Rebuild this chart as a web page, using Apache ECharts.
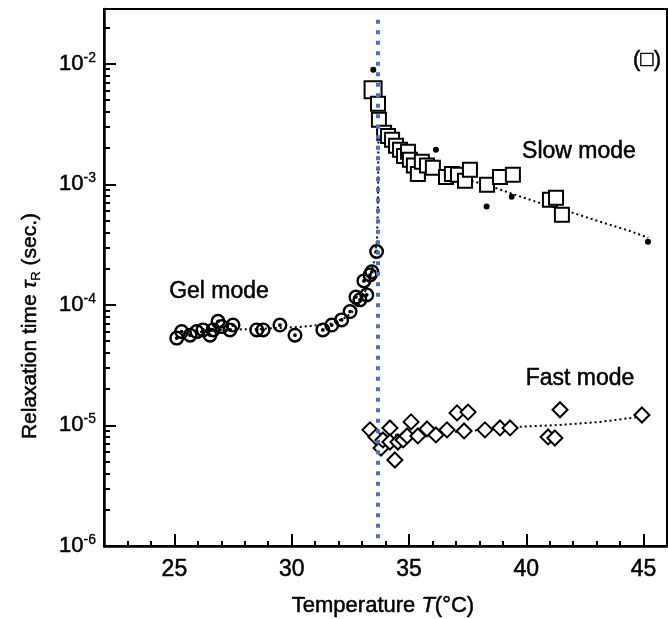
<!DOCTYPE html>
<html><head><meta charset="utf-8">
<script src="https://cdn.jsdelivr.net/npm/echarts@6/dist/echarts.min.js"></script>
<style>html,body{margin:0;padding:0;background:#fff}#c{width:668px;height:619px}</style>
</head><body><div id="c"></div>
<script>
// ---- axis ticks ----
const xTicks = [25, 30, 35, 40, 45];
const xMinorTicks = [22, 23, 24, 25, 26, 27, 28, 29, 30, 31, 32, 33, 34, 35, 36, 37, 38, 39, 40, 41, 42, 43, 44, 45, 46];
const yTicks = [1e-6, 1e-5, 1e-4, 1e-3, 1e-2];
const yMinorTicks = [2e-6, 3e-6, 4e-6, 5e-6, 6e-6, 7e-6, 8e-6, 9e-6,
  2e-5, 3e-5, 4e-5, 5e-5, 6e-5, 7e-5, 8e-5, 9e-5,
  2e-4, 3e-4, 4e-4, 5e-4, 6e-4, 7e-4, 8e-4, 9e-4,
  2e-3, 3e-3, 4e-3, 5e-3, 6e-3, 7e-3, 8e-3, 9e-3, 2e-2];

// ---- Gel mode (circles) ----
const gelT = [25.10, 25.31, 25.67, 25.95, 26.22, 26.52, 26.65, 26.86, 27.02, 27.37, 27.50, 28.51, 28.78, 29.50, 30.14, 31.33, 31.71, 32.13, 32.49, 32.74, 32.91, 33.08, 33.20, 33.34, 33.42, 33.62];
const gelTau = [5.3e-5, 6.0e-5, 5.6e-5, 6.0e-5, 6.2e-5, 5.6e-5, 6.2e-5, 7.3e-5, 6.6e-5, 6.2e-5, 6.8e-5, 6.2e-5, 6.2e-5, 6.8e-5, 5.6e-5, 6.2e-5, 6.8e-5, 7.5e-5, 8.8e-5, 1.16e-4, 1.1e-4, 1.58e-4, 1.21e-4, 1.77e-4, 1.88e-4, 2.77e-4];
const gelFitT = [25.24, 26.94, 28.65, 30.35, 31.63, 32.27, 32.70, 33.00, 33.25, 33.51, 33.64, 33.68, 33.70];
const gelFitTau = [5.74e-5, 6.2e-5, 6.32e-5, 6.56e-5, 6.95e-5, 7.8e-5, 9.1e-5, 1.1e-4, 1.47e-4, 2.28e-4, 3.46e-4, 7.4e-4, 2.9e-3];

// ---- Slow mode (squares) ----
const slowT = [33.47, 33.68, 33.72, 33.94, 34.11, 34.28, 34.45, 34.62, 34.79, 34.96, 35.04, 35.21, 35.38, 35.55, 35.77, 36.02, 36.58, 36.83, 37.09, 37.39, 37.60, 38.33, 38.88, 39.43, 41.01, 41.27, 41.52];
const slowTau = [6.08e-3, 4.66e-3, 3.43e-3, 2.67e-3, 2.52e-3, 2.34e-3, 2.09e-3, 1.93e-3, 1.72e-3, 1.86e-3, 1.60e-3, 1.43e-3, 1.22e-3, 1.54e-3, 1.43e-3, 1.37e-3, 1.15e-3, 1.22e-3, 1.20e-3, 1.07e-3, 1.32e-3, 9.9e-4, 1.15e-3, 1.20e-3, 7.43e-4, 7.73e-4, 5.58e-4];
const slowFitT = [33.70, 33.98, 34.40, 35.04, 35.90, 37.17, 38.45, 39.43, 40.58, 41.86, 43.14, 44.42, 45.20];
const slowFitTau = [2.9e-3, 2.43e-3, 2.01e-3, 1.60e-3, 1.32e-3, 1.13e-3, 9.7e-4, 8.3e-4, 7.0e-4, 5.9e-4, 4.9e-4, 4.1e-4, 3.6e-4];

// ---- filled small dots ----
const dotT = [33.48, 36.15, 38.31, 39.38, 45.19];
const dotTau = [8.9e-3, 1.93e-3, 6.55e-4, 7.9e-4, 3.33e-4];

// ---- Fast mode (diamonds) ----
const fastT = [33.34, 33.59, 33.81, 33.89, 34.19, 34.19, 34.40, 34.53, 34.75, 34.92, 35.09, 35.38, 35.77, 36.15, 36.62, 37.05, 37.35, 37.52, 38.24, 38.88, 39.31, 40.93, 41.22, 41.44, 44.93];
const fastTau = [9.19e-6, 8.03e-6, 6.5e-6, 7.58e-6, 9.53e-6, 7.29e-6, 5.17e-6, 7.29e-6, 7.58e-6, 8.18e-6, 1.07e-5, 8.18e-6, 9.35e-6, 8.34e-6, 9.19e-6, 1.27e-5, 9.0e-6, 1.29e-5, 9.19e-6, 9.53e-6, 9.53e-6, 8.03e-6, 7.87e-6, 1.35e-5, 1.22e-5];
const fastFitT = [33.34, 35.47, 37.60, 39.52, 41.44, 43.14, 44.85];
const fastFitTau = [8.18e-6, 8.5e-6, 9.0e-6, 9.7e-6, 1.01e-5, 1.07e-5, 1.18e-5];

// ---- critical temperature marker (blue dotted) ----
const tcT = [33.68, 33.68];
const tcTau = [0.0232, 1.1e-6];

const zip = (a, b) => a.map((v, i) => [v, b[i]]);
const FONT = '"Liberation Sans", Arial, "DejaVu Sans", sans-serif';
const ringPath = 'path://M10,0 A10,10 0 1,1 10,20 A10,10 0 1,1 10,0 Z M10,3.2 A6.8,6.8 0 1,0 10,16.8 A6.8,6.8 0 1,0 10,3.2 Z M10,7.5 A2.5,2.5 0 1,1 10,12.5 A2.5,2.5 0 1,1 10,7.5 Z';
const TB = {textBorderColor: '#000', textBorderWidth: 0.5};

const chart = echarts.init(document.getElementById('c'), null, {renderer: 'canvas'});
const xBase = {type: 'value', min: 22, max: 46, position: 'bottom', splitLine: {show: false}};
const yBase = {type: 'log', logBase: 10, min: 1e-6, max: 0.02844, position: 'left', splitLine: {show: false}};

chart.setOption({
  animation: false,
  backgroundColor: '#fff',
  grid: {left: 104, right: 1, top: 9, bottom: 73, show: true, borderColor: '#000', borderWidth: 2, backgroundColor: 'transparent'},
  xAxis: [
    Object.assign({}, xBase, {
      axisLine: {show: true, lineStyle: {color: '#000', width: 2.5}},
      axisTick: {show: true, inside: true, length: 12, customValues: xTicks, lineStyle: {color: '#000', width: 2}},
      axisLabel: Object.assign({show: true, customValues: xTicks, color: '#000', fontSize: 23, fontFamily: FONT, margin: 12}, TB)
    }),
    Object.assign({}, xBase, {
      axisLine: {show: false},
      axisTick: {show: true, inside: true, length: 5, customValues: xMinorTicks, lineStyle: {color: '#000', width: 2}},
      axisLabel: {show: false}
    })
  ],
  yAxis: [
    Object.assign({}, yBase, {
      axisLine: {show: true, lineStyle: {color: '#000', width: 2.5}},
      axisTick: {show: true, inside: true, length: 12, customValues: yTicks, lineStyle: {color: '#000', width: 2}},
      axisLabel: {
        show: true, customValues: yTicks, margin: 8, color: '#000', fontFamily: FONT,
        formatter: v => '{b|10}{s|' + Math.round(Math.log10(v)) + '}',
        rich: {
          b: Object.assign({fontSize: 22, fontFamily: FONT, color: '#000', lineHeight: 26}, TB),
          s: {fontSize: 14, fontFamily: FONT, color: '#000', lineHeight: 14, verticalAlign: 'top', textBorderColor: '#000', textBorderWidth: 0.3}
        }
      }
    }),
    Object.assign({}, yBase, {
      axisLine: {show: false},
      axisTick: {show: true, inside: true, length: 6, customValues: yMinorTicks, lineStyle: {color: '#000', width: 2}},
      axisLabel: {show: false}
    })
  ],
  graphic: [
    {type: 'text', x: 30, y: 326, rotation: Math.PI / 2, style: {
      text: '{a|Relaxation time }{t|τ}{r|R}{a| (sec.)}', align: 'center', verticalAlign: 'middle',
      rich: {
        a: {fontSize: 21, fontFamily: FONT, fill: '#000', lineHeight: 26, stroke: '#000', lineWidth: 0.5},
        t: {fontSize: 21, fontFamily: FONT, fontStyle: 'italic', fill: '#000', lineHeight: 26, stroke: '#000', lineWidth: 0.5},
        r: {fontSize: 13, fontFamily: FONT, fill: '#000', lineHeight: 13, verticalAlign: 'bottom', stroke: '#000', lineWidth: 0.3}
      }}},
    {type: 'text', x: 383, y: 606, style: {
      text: '{a|Temperature }{i|T}{a|(°C)}', align: 'center', verticalAlign: 'middle',
      rich: {
        a: {fontSize: 22, fontFamily: FONT, fill: '#000', stroke: '#000', lineWidth: 0.5},
        i: {fontSize: 22, fontFamily: FONT, fontStyle: 'italic', fill: '#000', stroke: '#000', lineWidth: 0.5}
      }}},
    {type: 'text', x: 219, y: 292, style: {text: 'Gel mode', font: '23px ' + FONT, fill: '#000', stroke: '#000', lineWidth: 0.5, align: 'center', verticalAlign: 'middle'}},
    {type: 'text', x: 579, y: 152, style: {text: 'Slow mode', font: '23px ' + FONT, fill: '#000', stroke: '#000', lineWidth: 0.5, align: 'center', verticalAlign: 'middle'}},
    {type: 'text', x: 580, y: 379, style: {text: 'Fast mode', font: '23px ' + FONT, fill: '#000', stroke: '#000', lineWidth: 0.5, align: 'center', verticalAlign: 'middle'}},
    {type: 'text', x: 647, y: 60, style: {text: '(□)', font: '22px ' + FONT, fill: '#000', stroke: '#000', lineWidth: 0.5, align: 'center', verticalAlign: 'middle'}}
  ],
  series: [
    {name: 'gel fit', type: 'line', data: zip(gelFitT, gelFitTau), showSymbol: false, symbol: 'none', silent: true, z: 2,
      lineStyle: {color: '#000', width: 2, type: [2, 3]}},
    {name: 'slow fit', type: 'line', data: zip(slowFitT, slowFitTau), showSymbol: false, symbol: 'none', silent: true, z: 2,
      lineStyle: {color: '#000', width: 2, type: [2, 3]}},
    {name: 'fast fit', type: 'line', data: zip(fastFitT, fastFitTau), showSymbol: false, symbol: 'none', silent: true, z: 2,
      lineStyle: {color: '#000', width: 2, type: [2, 3]}},
    {name: 'Gel mode', type: 'scatter', data: zip(gelT, gelTau), symbol: ringPath, symbolSize: 15, z: 3,
      itemStyle: {color: '#000', opacity: 1}},
    {name: 'Slow mode', type: 'scatter', data: zip(slowT, slowTau), symbol: 'emptyRect',
      symbolSize: (v, p) => p.dataIndex === 0 ? 17 : 14, z: 3,
      itemStyle: {color: '#000', borderColor: '#000', borderWidth: 3, opacity: 1}},
    {name: 'Fast mode', type: 'scatter', data: zip(fastT, fastTau), symbol: 'emptyDiamond', symbolSize: 15, z: 3,
      itemStyle: {color: '#000', borderColor: '#000', borderWidth: 3, opacity: 1}},
    {name: 'dots', type: 'scatter', data: zip(dotT, dotTau), symbol: 'circle', symbolSize: 6, z: 4,
      itemStyle: {color: '#000', opacity: 1}},
    {name: 'Tc', type: 'line', data: zip(tcT, tcTau), showSymbol: false, symbol: 'none', silent: true, z: 10,
      lineStyle: {color: '#4472C4', width: 4, type: [4, 6.5]}}
  ]
});
</script>
</body></html>
